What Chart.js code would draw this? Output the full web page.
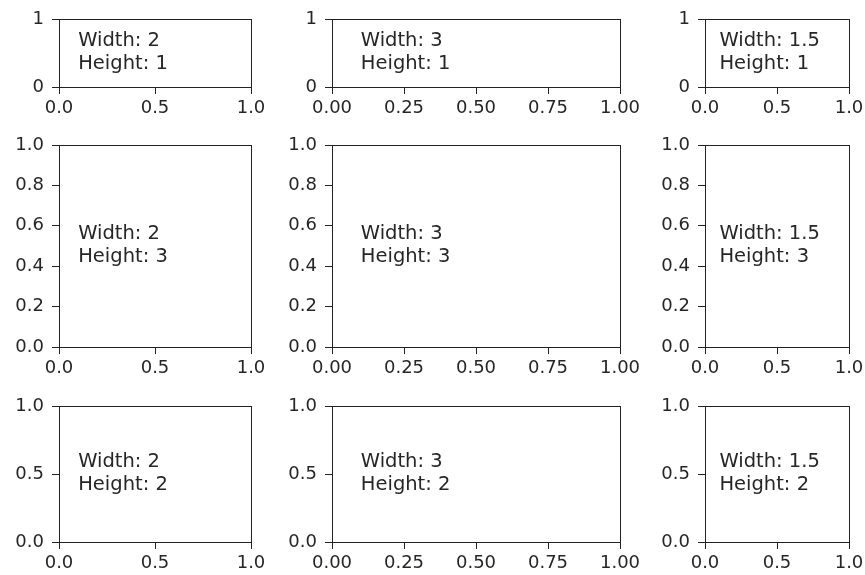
<!DOCTYPE html>
<html>
<head>
<meta charset="utf-8">
<script src="https://cdn.jsdelivr.net/npm/chart.js"></script>
<style>
  body{margin:0;background:#fff}
  #fig{position:relative;width:865px;height:575px;overflow:hidden;background:#fff}
  #fig canvas{position:absolute}
</style>
</head>
<body>
<div id="fig"></div>
<script>
// grid ratios shown in each panel's text
const widthRatios = ["2", "3", "1.5"];
const heightRatios = ["1", "3", "2"];

// tick values and labels, per column (x) and per row (y)
const xTickValues = [[0, 0.5, 1], [0, 0.25, 0.5, 0.75, 1], [0, 0.5, 1]];
const xTickLabels = [["0.0", "0.5", "1.0"], ["0.00", "0.25", "0.50", "0.75", "1.00"], ["0.0", "0.5", "1.0"]];
const yTickValues = [[0, 1], [0, 0.2, 0.4, 0.6, 0.8, 1], [0, 0.5, 1]];
const yTickLabels = [["0", "1"], ["0.0", "0.2", "0.4", "0.6", "0.8", "1.0"], ["0.0", "0.5", "1.0"]];

// text anchor in axes coordinates
const textX = 0.1;
const textY = 0.5;

// layout: plot area edges in page pixels
const colEdges = [[59, 251], [332, 620], [705, 849]];
const rowEdges = [[19, 87], [145, 347], [406, 542]];
const leftW = 55, topH = 24, bottomH = 35;
const rightW = 30;

const ink = "#262626";
const spine = "#222";
const tickFont = { family: "DejaVu Sans", size: 18 };

const panelText = {
  id: "panelText",
  afterDraw(chart, args, opts) {
    const { ctx } = chart;
    const x = chart.scales.x.getPixelForValue(textX);
    const y = chart.scales.y.getPixelForValue(textY);
    ctx.save();
    ctx.font = "19.5px 'DejaVu Sans'";
    ctx.fillStyle = ink;
    ctx.textAlign = "left";
    ctx.textBaseline = "alphabetic";
    ctx.fillText(opts.lines[0], x, y - 7);
    ctx.fillText(opts.lines[1], x, y + 16);
    ctx.restore();
  }
};

const fig = document.getElementById("fig");

rowEdges.forEach(([top, bottom], r) => {
  colEdges.forEach(([left, right], c) => {
    const cv = document.createElement("canvas");
    const w = right - left + leftW + rightW;
    const h = bottom - top + topH + bottomH;
    cv.width = w; cv.height = h;
    cv.style.left = (left - leftW) + "px";
    cv.style.top = (top - topH) + "px";
    cv.style.width = w + "px"; cv.style.height = h + "px";
    fig.appendChild(cv);

    const axis = (vals, labs) => ({
      type: "linear", min: 0, max: 1,
      afterBuildTicks: s => { s.ticks = vals.map(v => ({ value: v })); },
      ticks: { callback: (v, i) => labs[i], color: ink, font: tickFont, autoSkip: false, maxRotation: 0 },
      grid: { display: true, drawOnChartArea: false, drawTicks: true, tickLength: 7, color: spine, lineWidth: 1 },
      border: { display: true, color: spine, width: 1 }
    });
    const frame = (pos, size) => ({
      type: "linear", position: pos, min: 0, max: 1,
      ticks: { display: false },
      grid: { display: false, drawTicks: false },
      border: { display: true, color: spine, width: 1 },
      afterFit: s => { if (pos === "top") s.height = size; else s.width = size; }
    });

    const xs = axis(xTickValues[c], xTickLabels[c]);
    xs.position = "bottom";
    xs.ticks.padding = 4;
    xs.afterFit = s => { s.height = bottomH; };
    const ys = axis(yTickValues[r], yTickLabels[r]);
    ys.position = "left";
    ys.ticks.padding = 8;
    ys.afterFit = s => { s.width = leftW; };

    new Chart(cv, {
      type: "scatter",
      data: { datasets: [{ data: [] }] },
      options: {
        responsive: false,
        animation: false,
        devicePixelRatio: 1,
        layout: { padding: 0 },
        plugins: {
          legend: { display: false },
          tooltip: { enabled: false },
          panelText: { lines: ["Width: " + widthRatios[c], "Height: " + heightRatios[r]] }
        },
        scales: { x: xs, y: ys, x2: frame("top", topH), y2: frame("right", rightW) }
      },
      plugins: [panelText]
    });
  });
});
</script>
</body>
</html>
